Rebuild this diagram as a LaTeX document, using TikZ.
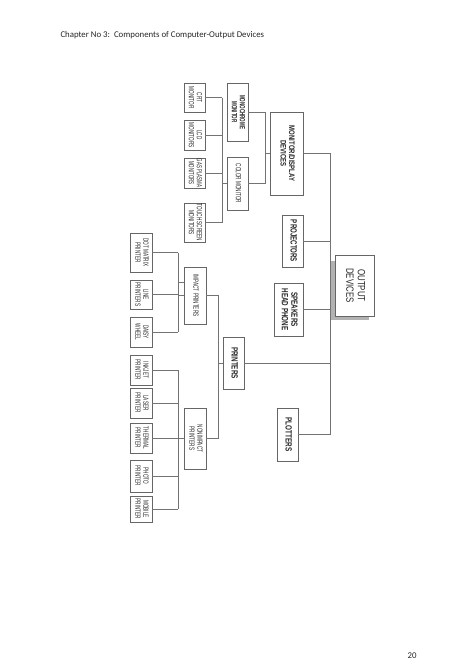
\documentclass[tikz,border=0pt]{standalone}
\usepackage{graphicx}
\usepackage{fontspec}
\setmainfont{Carlito}
\newfontfamily\boxfont{Liberation Sans}
\usetikzlibrary{positioning}

% 縦書き用に横方向だけ縮める
\newcommand{\boxtext}[2][0.62]{\scalebox{#1}[1]{\begin{tabular}{@{}c@{}}#2\end{tabular}}}

\tikzset{
  box/.style={draw=black!60, fill=white, rotate=-90, inner sep=0pt, align=center,
    text=black!85, font=\boxfont\fontsize{7.5}{8}\selectfont},
  leaf/.style={box, minimum height=22},
  headbox/.style={box, font=\boxfont\bfseries\fontsize{9}{9.5}\selectfont},
  link/.style={draw=black!55, line width=0.6pt},
}

\begin{document}
\begin{tikzpicture}[x=1pt, y=-1pt]
    \useasboundingbox (0,0) rectangle (474,670);

    % 見出し
    \node[anchor=base west, font=\fontsize{8.8}{10}\selectfont, text=black!85] (title) at (57,37.5)
        {Chapter No 3:\ \ Components of Computer-Output Devices};
    \node[anchor=base, font=\fontsize{8.8}{10}\selectfont, text=black!85] (pnum) at (412,658) {20};

    % 分岐線の位置
    \coordinate (mleaf) at (222,0);
    \coordinate (mtype) at (265,0);
    \coordinate (main)  at (330,0);
    \coordinate (ileaf) at (178,0);
    \coordinate (pjoin) at (218,0);

    % 出力装置
    \fill[black!30] (330,261) rectangle (369,320);
    \node[box, minimum width=61, minimum height=39, font=\boxfont\fontsize{10.5}{11.5}\selectfont]
        (out) at (354.5,285.5) {\boxtext[0.75]{OUTPUT\\DEVICES}};

    % 第一階層
    \node[headbox, minimum width=83, minimum height=33, font=\boxfont\bfseries\fontsize{8}{8.5}\selectfont]
        (disp) at (286.5,153.5) {\boxtext[0.75]{MONITOR/DISPLAY\\DEVICES}};
    \node[headbox, minimum width=52, minimum height=21] (proj) at (292.5,241) {\boxtext[0.68]{PROJECTORS}};
    \node[headbox, minimum width=53, minimum height=29] (spk) at (288.5,309.5) {\boxtext[0.7]{SPEAKERS\\HEAD PHONE}};
    \node[headbox, minimum width=52, minimum height=21] (prn) at (233.5,363) {\boxtext[0.7]{PRINTERS}};
    \node[headbox, minimum width=53, minimum height=21] (plot) at (287.5,434.5) {\boxtext[0.7]{PLOTTERS}};

    % モニタ
    \node[box, minimum width=58, minimum height=21, font=\boxfont\bfseries\fontsize{7.5}{8}\selectfont]
        (mono) at (237.5,112) {\boxtext[0.6]{MONOCHROME\\MONITOR}};
    \node[box, minimum width=53, minimum height=21] (color) at (237.5,183.5) {\boxtext{COLOR MONITOR}};
    \node[leaf, minimum width=29, minimum height=21] (crt) at (194.5,97.5) {\boxtext{CRT\\MONITOR}};
    \node[leaf, minimum width=30, minimum height=21] (lcd) at (194.5,135) {\boxtext{LCD\\MONITORS}};
    \node[leaf, minimum width=30, minimum height=21] (gas) at (194.5,173) {\boxtext[0.58]{GAS PLASMA\\MONITORS}};
    \node[leaf, minimum width=39, minimum height=21] (touch) at (194.5,222.5) {\boxtext{TOUCH SCREEN\\MONITORS}};

    % プリンタ
    \node[box, minimum width=57, minimum height=22] (imp) at (195,295.5) {\boxtext{IMPACT PRINTERS}};
    \node[box, minimum width=61, minimum height=22] (nonimp) at (195,438.5) {\boxtext{NONIMPACT\\PRINTERS}};
    \node[leaf, minimum width=39] (dot) at (141,252.5) {\boxtext{DOT MATRIX\\PRINTER}};
    \node[leaf, minimum width=29] (line) at (141,294.5) {\boxtext{LINE\\PRINTERS}};
    \node[leaf, minimum width=30] (daisy) at (141,332) {\boxtext{DAISY\\WHEEL}};
    \node[leaf, minimum width=30] (inkjet) at (141,370) {\boxtext{INKJET\\PRINTER}};
    \node[leaf, minimum width=30] (laser) at (141,403) {\boxtext{LASER\\PRINTER}};
    \node[leaf, minimum width=30] (thermal) at (141,438) {\boxtext{THERMAL\\PRINTER}};
    \node[leaf, minimum width=32] (photo) at (141,476) {\boxtext{PHOTO\\PRINTER}};
    \node[leaf, minimum width=26] (mobile) at (141,509) {\boxtext{MOBILE\\PRINTER}};

    % 幹線
    \draw[link] (disp.north) -- (disp.north -| main) -- (plot.north -| main);
    \foreach \n in {proj,spk,prn,plot}
        \draw[link] (\n.north) -- (\n.north -| main);

    % モニタの線
    \foreach \n in {crt,lcd,gas,touch}
        \draw[link] (\n.north) -- (\n.north -| mleaf);
    \draw[link] (crt.north -| mleaf) -- (touch.north -| mleaf);
    \draw[link] (color.south -| mleaf) -- (color.south);
    \foreach \n in {mono,color}
        \draw[link] (\n.north) -- (\n.north -| mtype);
    \draw[link] (mono.north -| mtype) -- (color.north -| mtype);
    \draw[link] (disp.south -| mtype) -- (disp.south);

    % プリンタの線
    \foreach \n in {dot,line,daisy}
        \draw[link] (\n.north) -- (\n.north -| ileaf);
    \draw[link] (dot.north -| ileaf) -- (daisy.north -| ileaf);
    \coordinate (imptick) at ([yshift=13.5pt]imp.south);
    \draw[link] (imptick -| ileaf) -- (imptick);
    \draw[link] (imp.south -| ileaf) -- (imp.south);
    \foreach \n in {inkjet,laser,thermal,photo,mobile}
        \draw[link] (\n.north) -- (\n.north -| ileaf);
    \draw[link] (inkjet.north -| ileaf) -- (mobile.north -| ileaf);
    \draw[link] (nonimp.south -| ileaf) -- (nonimp.south);
    \draw[link] (imp.north) -- (imp.north -| pjoin) -- (nonimp.north -| pjoin) -- (nonimp.north);
    \draw[link] (prn.south -| pjoin) -- (prn.south);
\end{tikzpicture}
\end{document}
